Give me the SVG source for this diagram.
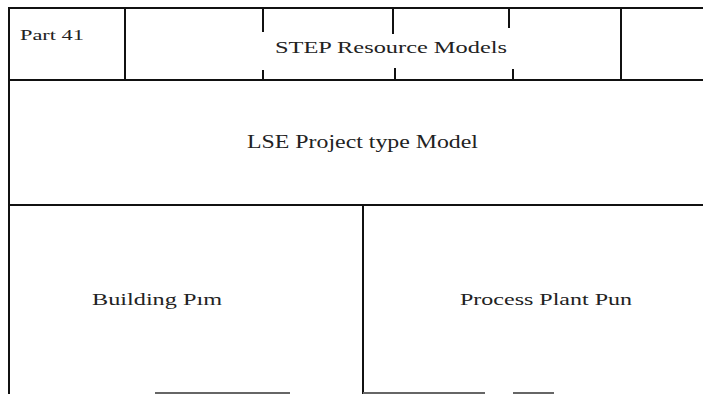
<svg xmlns="http://www.w3.org/2000/svg" width="703" height="394" viewBox="0 0 703 394">
<style>
.ln{stroke:#111;stroke-width:2;fill:none;stroke-linecap:square}
.bt{stroke:#666;stroke-width:2;fill:none}
.t{font-family:"Liberation Serif","Times New Roman",serif;fill:#222;text-anchor:start}
</style>
<rect width="703" height="394" fill="#fff"/>
<g id="frame">
<line class="ln" x1="9" y1="8" x2="703" y2="8"/>
<line class="ln" x1="9" y1="8" x2="9" y2="394"/>
<line class="ln" x1="9" y1="80" x2="703" y2="80"/>
<line class="ln" x1="9" y1="205" x2="703" y2="205"/>
</g>
<g id="part41">
<line class="ln" x1="125" y1="8" x2="125" y2="80"/>
<text class="t" x="20" y="40" font-size="15" textLength="64" lengthAdjust="spacingAndGlyphs">Part 41</text>
</g>
<g id="step">
<line class="ln" x1="263" y1="8" x2="263" y2="31"/>
<line class="ln" x1="263" y1="71" x2="263" y2="80"/>
<line class="ln" x1="393" y1="8" x2="393" y2="33"/>
<line class="ln" x1="395" y1="69" x2="395" y2="80"/>
<line class="ln" x1="509" y1="8" x2="509" y2="27"/>
<line class="ln" x1="513" y1="70" x2="513" y2="80"/>
<line class="ln" x1="621" y1="8" x2="621" y2="80"/>
<text class="t" x="275" y="53" font-size="17" textLength="232" lengthAdjust="spacingAndGlyphs">STEP Resource Models</text>
</g>
<g id="lse">
<text class="t" x="247" y="148" font-size="18" textLength="231" lengthAdjust="spacingAndGlyphs">LSE Project type Model</text>
</g>
<g id="building">
<text class="t" x="92" y="305" font-size="17" textLength="130" lengthAdjust="spacingAndGlyphs">Building Pım</text>
</g>
<g id="process">
<line class="ln" x1="363" y1="205" x2="363" y2="394"/>
<text class="t" x="460" y="305" font-size="17" textLength="172" lengthAdjust="spacingAndGlyphs">Process Plant Pun</text>
</g>
<g id="connectors">
<line class="bt" x1="155" y1="393" x2="290" y2="393"/>
<line class="bt" x1="363" y1="393" x2="485" y2="393"/>
<line class="bt" x1="513" y1="393" x2="554" y2="393"/>
</g>
</svg>
